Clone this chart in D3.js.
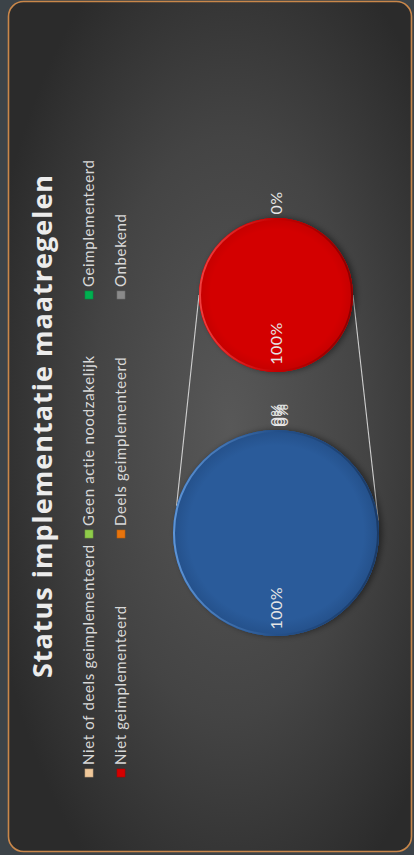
<!DOCTYPE html>
<html>
<head>
<meta charset="utf-8">
<script src="https://cdn.jsdelivr.net/npm/d3@7"></script>
<style>
    html, body { margin: 0; padding: 0; background: #3c4348; }
    svg { display: block; }
</style>
</head>
<body>
<svg id="chart"></svg>
<script>
// legend order (row by row, like the Excel legend)
var categories = ['Niet of deels geimplementeerd', 'Geen actie noodzakelijk', 'Geimplementeerd',
                  'Niet geimplementeerd', 'Deels geimplementeerd', 'Onbekend'];
var categoryColors = ['#f0c89a', '#8fcc4a', '#00b050', '#d40000', '#e8740c', '#8a8a8a'];

// main pie
var mainCategories = ['Niet of deels geimplementeerd', 'Geen actie noodzakelijk', 'Geimplementeerd', 'Onbekend'];
var mainValues = [100, 0, 0, 0];

// secondary pie (split of "niet of deels")
var secondCategories = ['Niet geimplementeerd', 'Deels geimplementeerd'];
var secondValues = [100, 0];

var title = 'Status implementatie maatregelen';

var width = 414, height = 855;
var svg = d3.select('svg#chart')
    .attr('width', width)
    .attr('height', height)
    .attr('viewBox', '0 0 ' + width + ' ' + height);

var defs = svg.append('defs');

var cardGrad = defs.append('radialGradient').attr('id', 'cardGrad')
    .attr('cx', '0.55').attr('cy', '0.5').attr('r', '0.62');
cardGrad.append('stop').attr('offset', '0').attr('stop-color', '#585858');
cardGrad.append('stop').attr('offset', '0.55').attr('stop-color', '#444444');
cardGrad.append('stop').attr('offset', '1').attr('stop-color', '#2b2b2b');

// fill + rim gradients for the two pies (defined in the unrotated chart space)
function pieGradients(id, center, edge, rimLight, rimDark){
    var f = defs.append('radialGradient').attr('id', id + 'Fill')
        .attr('cx', '0.5').attr('cy', '0.5').attr('r', '0.5');
    f.append('stop').attr('offset', '0').attr('stop-color', center);
    f.append('stop').attr('offset', '0.85').attr('stop-color', center);
    f.append('stop').attr('offset', '1').attr('stop-color', edge);
    var r = defs.append('linearGradient').attr('id', id + 'Rim')
        .attr('x1', '0').attr('y1', '0').attr('x2', '0').attr('y2', '1');
    r.append('stop').attr('offset', '0').attr('stop-color', rimLight);
    r.append('stop').attr('offset', '0.5').attr('stop-color', edge);
    r.append('stop').attr('offset', '1').attr('stop-color', rimDark);
}
pieGradients('blue', '#2a5b9a', '#24508a', '#5d94d6', '#1a3a66');
pieGradients('red', '#d30000', '#c40000', '#f04040', '#8c0000');

var shadow = defs.append('filter').attr('id', 'shadow')
    .attr('x', '-20%').attr('y', '-20%').attr('width', '140%').attr('height', '140%');
shadow.append('feDropShadow').attr('dx', 0).attr('dy', 3).attr('stdDeviation', 3)
    .attr('flood-color', '#000').attr('flood-opacity', 0.45);

// card
svg.append('rect')
    .attr('x', 8.5).attr('y', 1.5)
    .attr('width', 403).attr('height', 850)
    .attr('rx', 15)
    .style('fill', 'url(#cardGrad)')
    .style('stroke', '#c9874a')
    .style('stroke-width', 1.6);

// the whole chart is turned a quarter to the left
var chart = svg.append('g')
    .attr('transform', 'translate(0,' + height + ') rotate(-90)');

chart.append('text')
    .attr('x', 429).attr('y', 52)
    .attr('text-anchor', 'middle')
    .style('font-family', '"Open Sans", sans-serif')
    .style('font-weight', 'bold')
    .style('font-size', '27px')
    .style('letter-spacing', '1px')
    .style('fill', '#ececec')
    .text(title);

// legend
var color = d3.scaleOrdinal().domain(categories).range(categoryColors);
var legendCol = d3.scalePoint().domain([0, 1, 2]).range([82, 560]);
var legendRow = d3.scalePoint().domain([0, 1]).range([89, 121]);

var legend = chart.append('g').selectAll('g')
    .data(categories)
    .join('g')
    .attr('transform', function(d, i){
        return 'translate(' + legendCol(i % 3) + ',' + legendRow(Math.floor(i / 3)) + ')';
    });
legend.append('rect')
    .attr('x', -4).attr('y', -4).attr('width', 8).attr('height', 8)
    .style('fill', function(d){ return color(d); })
    .style('stroke', function(d){ return d3.color(color(d)).darker(0.6); })
    .style('stroke-width', 0.6);
legend.append('text')
    .attr('x', 8).attr('y', 5)
    .style('font-family', 'Lato, sans-serif')
    .style('font-size', '15px')
    .style('letter-spacing', '0.65px')
    .style('fill', '#d8d8d8')
    .text(function(d){ return d; });

// pies
var pie = d3.pie().sort(null).startAngle(Math.PI / 2).endAngle(Math.PI / 2 + 2 * Math.PI);
var pct = d3.format('.0%');

function drawPie(cx, cy, radius, names, values, gradId, fillFn, innerLabelFactor){
    var total = d3.sum(values);
    var arcs = pie(values);
    var g = chart.append('g').attr('transform', 'translate(' + cx + ',' + cy + ')');
    var arc = d3.arc().innerRadius(0).outerRadius(radius);

    g.append('circle').attr('r', radius)
        .style('fill', 'url(#' + gradId + 'Fill)')
        .style('filter', 'url(#shadow)');
    g.selectAll('path.slice')
        .data(arcs.filter(function(d){ return d.value > 0; }))
        .join('path')
        .attr('class', 'slice')
        .attr('d', arc)
        .style('fill', function(d){ return fillFn(names[d.index]); });
    g.append('circle').attr('r', radius - 1)
        .style('fill', 'none')
        .style('stroke', 'url(#' + gradId + 'Rim)')
        .style('stroke-width', 2);

    var inner = d3.arc().innerRadius(radius * innerLabelFactor).outerRadius(radius * innerLabelFactor);
    var outer = d3.arc().innerRadius(radius + 15).outerRadius(radius + 15);
    var zeroCount = 0;
    g.selectAll('text')
        .data(arcs)
        .join('text')
        .attr('transform', function(d){
            if(d.value > 0){
                return 'translate(' + inner.centroid(d) + ')';
            }
            var p = outer.centroid(d);
            var shift = (zeroCount++) * 3;
            return 'translate(' + p[0] + ',' + (p[1] + shift) + ')';
        })
        .attr('text-anchor', 'middle')
        .attr('dy', '0.35em')
        .style('font-family', 'Lato, sans-serif')
        .style('font-size', '16px')
        .style('letter-spacing', '0.5px')
        .style('fill', '#e6e6e6')
        .text(function(d){ return pct(d.value / total); });
    return g;
}

var mainC = [322, 276], mainR = 103;
var secC = [560, 276], secR = 77;

// connector lines from the secondary pie to the main pie
var joins = [[15, -1], [173, 1]];
chart.append('g').selectAll('line')
    .data(joins)
    .join('line')
    .attr('x1', function(d){ return mainC[0] + mainR * Math.sin(d[0] * Math.PI / 180); })
    .attr('y1', function(d){ return mainC[1] - mainR * Math.cos(d[0] * Math.PI / 180); })
    .attr('x2', secC[0])
    .attr('y2', function(d){ return secC[1] + d[1] * secR; })
    .style('stroke', '#cfcfcf')
    .style('stroke-width', 1.1);

drawPie(mainC[0], mainC[1], mainR, mainCategories, mainValues, 'blue',
    function(){ return 'url(#blueFill)'; }, 0.73);
drawPie(secC[0], secC[1], secR, secondCategories, secondValues, 'red',
    function(){ return 'url(#redFill)'; }, 0.63);
</script>
</body>
</html>
